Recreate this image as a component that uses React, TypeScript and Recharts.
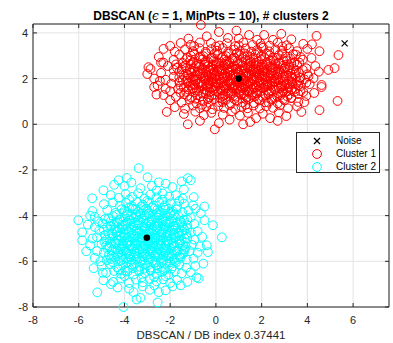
import React from "react";
import {
  CartesianGrid,
  ReferenceArea,
  Scatter,
  ScatterChart,
  XAxis,
  YAxis,
} from "recharts";

const xTicks = [-8, -6, -4, -2, 0, 2, 4, 6];
const yTicks = [-8, -6, -4, -2, 0, 2, 4];

const cluster1: [number, number][] = [
  [-2.7, 2.0], [-2.2, 1.95], [-1.85, 2.08], [-1.45, 1.92], [-1.1, 2.04], [-0.82, 1.97], [-0.55, 2.1], [-0.31, 1.93], [-0.08, 2.02], [0.17, 1.96], [0.41, 2.07], [0.63, 1.91], [0.86, 2.05], [1.14, 1.94], [1.33, 2.09], [1.56, 1.98], [1.79, 2.03], [2.04, 1.92], [2.28, 2.06], [2.57, 1.99], [2.88, 2.04], [3.17, 1.93], [3.49, 2.07], [3.86, 1.97], [4.27, 2.02],
  [-2.4, 2.25], [-1.6, 2.3], [-1.25, 2.18], [-0.95, 2.32], [-0.68, 2.21], [-0.42, 2.28], [-0.2, 2.17], [0.05, 2.33], [0.28, 2.22], [0.52, 2.3], [0.74, 2.19], [0.98, 2.27], [1.21, 2.34], [1.44, 2.2], [1.67, 2.29], [1.9, 2.16], [2.16, 2.31], [2.41, 2.24], [2.69, 2.18], [2.97, 2.33], [3.28, 2.21], [3.62, 2.27], [4.0, 2.19], [4.5, 2.3],
  [-2.55, 1.7], [-1.95, 1.78], [-1.55, 1.68], [-1.2, 1.82], [-0.92, 1.72], [-0.64, 1.8], [-0.38, 1.67], [-0.14, 1.84], [0.1, 1.74], [0.34, 1.69], [0.57, 1.83], [0.79, 1.71], [1.03, 1.79], [1.26, 1.66], [1.49, 1.81], [1.72, 1.73], [1.96, 1.85], [2.2, 1.69], [2.46, 1.77], [2.74, 1.83], [3.03, 1.7], [3.34, 1.8], [3.7, 1.67], [4.1, 1.76], [4.62, 1.72],
  [-2.86, 2.42], [-2.1, 2.55], [-1.7, 2.47], [-1.32, 2.58], [-1.0, 2.44], [-0.73, 2.52], [-0.47, 2.6], [-0.23, 2.46], [0.02, 2.55], [0.24, 2.41], [0.47, 2.58], [0.7, 2.49], [0.93, 2.43], [1.17, 2.57], [1.39, 2.5], [1.62, 2.42], [1.86, 2.59], [2.1, 2.47], [2.35, 2.53], [2.62, 2.44], [2.92, 2.56], [3.22, 2.48], [3.55, 2.6], [3.95, 2.45], [4.35, 2.55], [4.92, 2.38], [5.19, 2.46],
  [-2.7, 1.63], [-2.0, 1.45], [-1.65, 1.55], [-1.3, 1.42], [-1.02, 1.58], [-0.75, 1.47], [-0.5, 1.53], [-0.26, 1.41], [-0.02, 1.59], [0.22, 1.48], [0.45, 1.56], [0.68, 1.43], [0.9, 1.52], [1.13, 1.6], [1.36, 1.44], [1.58, 1.54], [1.82, 1.46], [2.07, 1.58], [2.32, 1.42], [2.58, 1.51], [2.86, 1.59], [3.15, 1.45], [3.47, 1.55], [3.82, 1.41], [4.3, 1.37], [4.62, 1.63],
  [-2.3, 2.7], [-1.85, 2.82], [-1.45, 2.68], [-1.12, 2.79], [-0.85, 2.66], [-0.58, 2.84], [-0.33, 2.72], [-0.1, 2.8], [0.14, 2.67], [0.37, 2.83], [0.6, 2.71], [0.83, 2.78], [1.06, 2.65], [1.3, 2.82], [1.52, 2.73], [1.76, 2.68], [2.0, 2.85], [2.25, 2.7], [2.52, 2.8], [2.8, 2.66], [3.1, 2.77], [3.42, 2.69], [3.8, 2.83], [4.18, 2.9],
  [-2.29, 1.28], [-1.75, 1.2], [-1.38, 1.32], [-1.08, 1.17], [-0.8, 1.27], [-0.55, 1.34], [-0.3, 1.19], [-0.06, 1.3], [0.18, 1.16], [0.4, 1.28], [0.64, 1.35], [0.87, 1.21], [1.1, 1.31], [1.34, 1.18], [1.57, 1.27], [1.8, 1.34], [2.04, 1.2], [2.3, 1.3], [2.55, 1.16], [2.83, 1.28], [3.12, 1.22], [3.3, 1.15], [3.6, 1.32], [3.95, 1.24],
  [-2.5, 2.95], [-1.6, 3.05], [-1.25, 2.93], [-0.95, 3.08], [-0.68, 2.97], [-0.42, 3.1], [-0.17, 2.92], [0.08, 3.04], [0.31, 2.96], [0.55, 3.09], [0.78, 2.91], [1.02, 3.02], [1.25, 3.1], [1.48, 2.94], [1.72, 3.06], [1.97, 2.98], [2.22, 3.08], [2.48, 2.92], [2.75, 3.03], [3.05, 2.97], [3.38, 3.07], [3.7, 2.95], [4.53, 3.2], [5.36, 3.03],
  [-2.0, 1.05], [-1.5, 0.95], [-1.15, 1.08], [-0.85, 0.92], [-0.57, 1.02], [-0.32, 0.94], [-0.08, 1.09], [0.16, 0.97], [0.42, 1.06], [0.66, 0.91], [0.92, 1.03], [1.17, 0.95], [1.42, 1.1], [1.66, 0.93], [1.9, 1.04], [2.15, 0.96], [2.42, 1.08], [2.7, 0.92], [3.0, 1.05], [3.3, 1.15], [3.6, 0.98], [3.87, 0.97], [5.32, 1.02],
  [-2.29, 3.3], [-1.8, 3.18], [-1.35, 3.28], [-1.0, 3.2], [-0.72, 3.33], [-0.45, 3.17], [-0.2, 3.29], [0.05, 3.22], [0.3, 3.34], [0.54, 3.16], [0.8, 3.27], [1.05, 3.2], [1.3, 3.32], [1.55, 3.18], [1.8, 3.25], [2.06, 3.35], [2.33, 3.19], [2.6, 3.28], [2.9, 3.22], [3.2, 3.33], [3.55, 3.2], [4.0, 3.3],
  [-1.8, 0.75], [-1.35, 0.68], [-1.0, 0.82], [-0.7, 0.7], [-0.42, 0.78], [-0.15, 0.66], [0.1, 0.8], [0.35, 0.72], [0.6, 0.84], [0.85, 0.67], [1.12, 0.77], [1.38, 0.7], [1.65, 0.82], [1.92, 0.69], [2.2, 0.79], [2.5, 0.72], [2.8, 0.83], [3.15, 0.7], [3.55, 0.78], [4.53, 0.62],
  [-2.0, 3.43], [-1.54, 3.56], [-1.1, 3.48], [-0.7, 3.58], [-0.22, 3.56], [0.15, 3.45], [0.48, 3.55], [0.85, 3.42], [1.2, 3.58], [1.6, 3.47], [1.95, 3.54], [2.35, 3.44], [2.7, 3.57], [3.1, 3.46], [3.82, 3.52], [4.2, 3.5],
  [-2.15, 0.54], [-1.4, 0.45], [-0.9, 0.55], [-0.53, 0.4], [-0.2, 0.5], [0.3, 0.42], [0.7, 0.56], [1.05, 0.38], [1.4, 0.5], [1.76, 0.27], [2.05, 0.46], [2.37, 0.27], [2.75, 0.52], [3.08, 0.36], [3.74, 0.54],
  [-0.66, 4.35], [0.13, 4.04], [0.53, 3.78], [1.45, 3.91], [2.11, 3.91], [2.5, 3.7], [2.86, 3.96], [4.4, 3.87], [-1.2, 3.75], [-0.4, 3.85], [1.0, 3.75], [1.8, 3.7], [3.3, 3.72], [0.9, 4.1],
  [-1.23, 0.0], [-0.05, -0.22], [0.13, 0.05], [1.19, 0.0], [0.6, 0.2], [-0.7, 0.15], [1.5, 0.1], [2.7, 0.15],
  [-2.95, 2.5], [-3.0, 2.2], [-2.4, 2.7], [-2.6, 1.3], [-2.45, 1.9], [-2.2, 1.55],
  [-0.9, 1.88], [-0.6, 2.38], [-0.35, 1.62], [-0.05, 2.12], [0.25, 1.86], [0.5, 2.44], [0.75, 1.57], [1.0, 2.16], [1.25, 1.9], [1.5, 2.38], [1.75, 1.62], [2.0, 2.14], [2.25, 1.87], [2.5, 2.36], [2.75, 1.58], [3.0, 2.12],
  [-0.75, 2.62], [-0.45, 1.35], [-0.15, 2.6], [0.12, 1.38], [0.4, 2.65], [0.68, 1.33], [0.95, 2.64], [1.22, 1.36], [1.48, 2.66], [1.75, 1.37], [2.02, 2.63], [2.3, 1.34], [2.6, 2.65], [2.9, 1.38],
  [-1.2, 2.15], [-1.0, 1.75], [3.3, 1.88], [3.5, 2.35], [3.3, 2.65], [-1.3, 2.45], [0.0, 1.8], [0.9, 1.85], [1.9, 2.4], [1.6, 1.75], [0.3, 2.35], [2.4, 2.0], [-0.5, 2.0], [3.6, 1.7],
  [-1.25, 1.24], [-0.92, 1.4], [-0.67, 1.22], [-0.4, 1.45], [-0.18, 1.26], [0.05, 1.44], [0.3, 1.23], [0.53, 1.47], [0.77, 1.25], [1.0, 1.42], [1.24, 1.27], [1.46, 1.45], [1.7, 1.22], [1.93, 1.43], [2.17, 1.26], [2.42, 1.46], [2.68, 1.23], [2.95, 1.44], [3.2, 1.3], [3.45, 1.42],
  [-1.4, 1.62], [-1.12, 1.7], [-0.86, 1.57], [-0.6, 1.66], [-0.42, 1.75], [-0.2, 1.58], [0.02, 1.67], [0.26, 1.61], [0.48, 1.72], [0.7, 1.64], [0.95, 1.7], [1.18, 1.58], [1.4, 1.68], [1.65, 1.6], [1.88, 1.69], [2.12, 1.61], [2.36, 1.72], [2.62, 1.64], [2.9, 1.7], [3.18, 1.62], [3.5, 1.75],
  [-1.3, 1.9], [-1.0, 1.98], [-0.7, 1.86], [-0.45, 1.95], [-0.22, 1.87], [0.02, 1.97], [0.28, 2.0], [0.52, 1.87], [0.73, 1.99], [0.98, 1.9], [1.2, 2.0], [1.42, 1.88], [1.68, 1.95], [1.9, 1.88], [2.15, 1.98], [2.45, 1.9], [2.72, 1.96], [3.0, 1.87], [3.32, 1.99], [3.65, 1.92],
  [-1.4, 2.12], [-1.08, 2.26], [-0.82, 2.14], [-0.55, 2.24], [-0.3, 2.1], [-0.08, 2.26], [0.15, 2.13], [0.4, 2.25], [0.62, 2.12], [0.86, 2.22], [1.1, 2.11], [1.32, 2.24], [1.56, 2.13], [1.78, 2.25], [2.03, 2.1], [2.28, 2.22], [2.55, 2.12], [2.82, 2.26], [3.12, 2.14], [3.45, 2.18],
  [-1.45, 2.5], [-1.15, 2.38], [-0.88, 2.55], [-0.6, 2.45], [-0.35, 2.53], [-0.12, 2.38], [0.12, 2.48], [0.36, 2.55], [0.58, 2.4], [0.82, 2.53], [1.05, 2.4], [1.28, 2.47], [1.52, 2.55], [1.74, 2.45], [1.98, 2.52], [2.22, 2.4], [2.48, 2.5], [2.75, 2.4], [3.05, 2.52], [3.38, 2.42],
  [-1.3, 2.85], [-1.0, 2.72], [-0.72, 2.9], [-0.45, 2.76], [-0.22, 2.88], [0.02, 2.72], [0.25, 2.9], [0.48, 2.76], [0.72, 2.88], [0.95, 2.74], [1.18, 2.92], [1.4, 2.78], [1.64, 2.9], [1.88, 2.75], [2.12, 2.93], [2.38, 2.78], [2.65, 2.9], [2.95, 2.8], [3.25, 2.88],
  [-0.9, 1.12], [-0.35, 1.1], [0.28, 1.12], [0.8, 1.1], [1.3, 1.12], [1.85, 1.1], [2.45, 1.12], [2.95, 1.1],
  [-1.55, 1.38], [-1.2, 1.52], [-0.1, 1.5], [0.55, 1.36], [1.08, 1.48], [1.62, 1.39], [2.22, 1.5], [2.72, 1.36], [3.3, 1.52], [3.7, 1.45],
  [-1.6, 1.85], [-0.78, 1.78], [-0.28, 1.76], [0.2, 1.79], [0.65, 1.77], [1.15, 1.76], [1.58, 1.88], [2.08, 1.76], [2.58, 1.86], [3.1, 1.78], [3.55, 1.85], [3.95, 1.82],
  [-1.6, 2.05], [-1.25, 2.0], [-0.95, 2.1], [-0.2, 2.05], [0.5, 2.1], [1.05, 2.05], [1.68, 2.1], [2.15, 2.08], [2.68, 2.08], [3.3, 2.08], [3.7, 2.05], [4.05, 2.1],
  [-1.85, 2.38], [-1.5, 2.4], [-0.75, 2.32], [-0.32, 2.4], [0.18, 2.42], [0.65, 2.36], [1.12, 2.37], [1.62, 2.34], [2.08, 2.36], [2.6, 2.3], [3.15, 2.4], [3.8, 2.38],
  [-1.75, 2.62], [-1.1, 2.62], [-0.5, 2.7], [0.0, 2.62], [0.55, 2.63], [1.12, 2.72], [1.65, 2.62], [2.2, 2.62], [2.75, 2.7], [3.2, 2.58], [3.65, 2.7],
  [-1.1, 3.0], [-0.55, 2.98], [-0.05, 3.1], [0.45, 2.98], [0.92, 3.12], [1.38, 3.02], [1.85, 3.12], [2.35, 3.02], [2.9, 3.1], [3.5, 3.05],
  [-0.6, 0.85], [0.3, 0.98], [1.3, 0.86], [2.3, 0.95], [-0.95, 3.42], [0.0, 3.4], [1.0, 3.45], [2.0, 3.42], [2.9, 3.4],
  [-0.62, 1.72], [-0.38, 2.18], [-0.15, 1.95], [0.08, 2.4], [0.2, 1.55], [0.35, 2.05], [0.45, 1.65], [0.6, 2.28], [0.72, 1.8], [0.88, 2.42], [1.08, 1.65], [1.2, 2.2], [1.35, 1.78], [1.5, 2.5], [1.62, 2.02],
  [1.8, 2.3], [1.95, 1.6], [2.1, 2.2], [2.25, 1.75], [2.4, 2.48], [2.55, 1.85], [2.7, 2.25], [2.85, 1.65], [-0.25, 2.35], [-0.8, 2.3], [3.0, 2.45], [3.2, 1.75], [-1.0, 1.55], [0.95, 1.6], [1.75, 2.55],
];

const cluster2: [number, number][] = [
  [-5.85, -5.08], [-5.2, -4.95], [-4.8, -5.05], [-4.5, -4.92], [-4.25, -5.07], [-4.0, -4.96], [-3.78, -5.1], [-3.55, -4.93], [-3.32, -5.04], [-3.1, -4.91], [-2.88, -5.06], [-2.66, -4.97], [-2.43, -5.09], [-2.2, -4.94], [-1.97, -5.03], [-1.73, -4.9], [-1.5, -5.07], [-1.25, -4.98], [-0.95, -5.05], [-0.6, -4.93], [0.26, -4.95],
  [-5.85, -4.73], [-5.1, -4.65], [-4.7, -4.78], [-4.42, -4.62], [-4.16, -4.74], [-3.93, -4.6], [-3.7, -4.77], [-3.47, -4.66], [-3.24, -4.8], [-3.02, -4.63], [-2.8, -4.75], [-2.57, -4.61], [-2.35, -4.72], [-2.12, -4.79], [-1.88, -4.64], [-1.63, -4.76], [-1.38, -4.62], [-1.1, -4.74], [-0.8, -4.68],
  [-5.5, -5.3], [-5.0, -5.25], [-4.65, -5.38], [-4.37, -5.22], [-4.12, -5.35], [-3.88, -5.24], [-3.65, -5.4], [-3.42, -5.27], [-3.2, -5.36], [-2.97, -5.21], [-2.75, -5.33], [-2.52, -5.26], [-2.3, -5.39], [-2.07, -5.23], [-1.83, -5.34], [-1.58, -5.22], [-1.32, -5.37], [-1.05, -5.28], [-0.7, -5.35],
  [-5.6, -4.4], [-4.95, -4.35], [-4.6, -4.47], [-4.33, -4.32], [-4.08, -4.45], [-3.85, -4.3], [-3.62, -4.43], [-3.38, -4.36], [-3.15, -4.49], [-2.93, -4.31], [-2.7, -4.44], [-2.47, -4.34], [-2.25, -4.48], [-2.02, -4.33], [-1.78, -4.46], [-1.52, -4.3], [-1.25, -4.42], [-0.95, -4.36], [-0.13, -4.42],
  [-5.67, -5.56], [-4.9, -5.62], [-4.55, -5.52], [-4.28, -5.66], [-4.03, -5.55], [-3.8, -5.69], [-3.57, -5.58], [-3.34, -5.5], [-3.1, -5.64], [-2.87, -5.53], [-2.64, -5.68], [-2.41, -5.57], [-2.18, -5.51], [-1.94, -5.65], [-1.7, -5.54], [-1.44, -5.67], [-1.15, -5.55], [-0.35, -5.6], [-0.8, -5.62],
  [-6.02, -4.2], [-5.3, -4.05], [-4.85, -4.15], [-4.5, -4.02], [-4.22, -4.17], [-3.97, -4.06], [-3.73, -4.19], [-3.5, -4.04], [-3.27, -4.14], [-3.04, -4.0], [-2.82, -4.16], [-2.58, -4.07], [-2.36, -4.2], [-2.13, -4.03], [-1.9, -4.13], [-1.65, -4.01], [-1.4, -4.18], [-1.1, -4.08], [-0.66, -3.9],
  [-5.3, -5.85], [-4.78, -5.95], [-4.45, -5.82], [-4.18, -5.98], [-3.93, -5.86], [-3.7, -5.93], [-3.46, -5.81], [-3.23, -5.97], [-3.0, -5.84], [-2.77, -5.96], [-2.53, -5.83], [-2.3, -5.94], [-2.06, -5.87], [-1.8, -5.99], [-1.55, -5.85], [-1.28, -5.92], [-0.98, -5.88],
  [-5.4, -3.8], [-4.75, -3.75], [-4.4, -3.88], [-4.12, -3.72], [-3.87, -3.85], [-3.63, -3.7], [-3.4, -3.83], [-3.17, -3.76], [-2.93, -3.89], [-2.7, -3.71], [-2.46, -3.84], [-2.22, -3.74], [-1.98, -3.87], [-1.73, -3.73], [-1.47, -3.86], [-1.2, -3.78], [-0.9, -3.7],
  [-5.0, -6.2], [-4.62, -6.12], [-4.32, -6.26], [-4.06, -6.15], [-3.81, -6.28], [-3.57, -6.13], [-3.33, -6.24], [-3.1, -6.11], [-2.86, -6.27], [-2.62, -6.16], [-2.38, -6.25], [-2.14, -6.1], [-1.88, -6.22], [-1.6, -6.14], [-1.3, -6.28], [-0.9, -6.2],
  [-5.41, -3.24], [-4.9, -3.5], [-4.5, -3.42], [-4.2, -3.56], [-3.93, -3.45], [-3.68, -3.58], [-3.44, -3.41], [-3.2, -3.53], [-2.96, -3.44], [-2.72, -3.57], [-2.48, -3.43], [-2.24, -3.55], [-1.98, -3.46], [-1.7, -3.59], [-1.4, -3.47], [-1.0, -3.55],
  [-4.8, -6.5], [-4.45, -6.42], [-4.15, -6.55], [-3.87, -6.45], [-3.6, -6.58], [-3.35, -6.43], [-3.1, -6.52], [-2.85, -6.41], [-2.6, -6.56], [-2.35, -6.46], [-2.08, -6.59], [-1.8, -6.44], [-1.5, -6.53], [-1.1, -6.48],
  [-4.92, -2.89], [-4.6, -3.1], [-4.25, -3.22], [-3.95, -3.05], [-3.66, -3.18], [-3.4, -3.02], [-3.13, -3.25], [-2.87, -3.08], [-2.6, -3.2], [-2.33, -3.03], [-2.05, -3.17], [-1.75, -3.1], [-1.45, -3.25], [-0.97, -3.19],
  [-4.92, -6.83], [-4.5, -6.9], [-4.15, -6.75], [-3.8, -6.95], [-3.5, -6.8], [-3.2, -6.92], [-2.9, -6.77], [-2.6, -6.88], [-2.3, -6.79], [-2.0, -6.95], [-1.7, -6.82], [-0.75, -6.75], [-1.25, -6.9],
  [-5.19, -7.36], [-4.04, -8.0], [-3.47, -7.67], [-2.55, -7.8], [-2.2, -7.27], [-1.54, -7.05], [-3.3, -7.6], [-3.8, -7.2], [-2.9, -7.25], [-3.2, -7.1], [-4.3, -7.15], [-2.5, -7.35],
  [-3.38, -1.92], [-2.99, -2.32], [-2.5, -2.54], [-1.23, -2.36], [-4.26, -2.45], [-4.0, -2.7], [-3.7, -2.55], [-3.3, -2.8], [-2.8, -2.7], [-2.2, -2.6], [-1.9, -2.75], [-1.5, -2.5], [-3.9, -2.35], [-4.45, -2.65], [-1.4, -2.85], [-2.6, -2.9], [-1.1, -2.45],
  [-4.2, -4.88], [-3.9, -5.15], [-3.6, -4.84], [-3.3, -5.18], [-3.0, -4.82], [-2.7, -5.17], [-2.4, -4.85], [-2.1, -5.14], [-1.85, -4.86],
  [-4.1, -4.55], [-3.8, -4.2], [-3.45, -4.57], [-3.15, -4.22], [-2.85, -4.56], [-2.55, -4.23], [-2.25, -4.58], [-1.95, -4.24],
  [-4.05, -5.45], [-3.75, -5.8], [-3.45, -5.44], [-3.15, -5.78], [-2.85, -5.43], [-2.55, -5.79], [-2.25, -5.46], [-1.95, -5.78],
  [-3.9, -3.95], [-3.3, -3.92], [-2.6, -3.95], [-2.0, -3.93], [-3.9, -6.05], [-3.3, -6.02], [-2.65, -6.06], [-2.0, -6.04],
  [-4.4, -5.15], [-4.35, -4.7], [-1.6, -5.15], [-1.65, -4.75], [-4.6, -4.25], [-1.45, -4.5], [-4.55, -5.75], [-1.4, -5.6],
  [-3.8, -3.65], [-3.52, -3.72], [-3.28, -3.62], [-3.05, -3.7], [-2.8, -3.63], [-2.55, -3.72], [-2.3, -3.64], [-2.08, -3.7],
  [-4.35, -3.97], [-4.05, -4.25], [-3.7, -3.98], [-3.4, -4.22], [-3.12, -3.96], [-2.82, -4.25], [-2.5, -3.98], [-2.2, -4.26], [-1.85, -3.97], [-1.55, -4.24],
  [-4.75, -4.5], [-4.48, -4.4], [-4.22, -4.55], [-3.95, -4.42], [-3.68, -4.52], [-3.4, -4.42], [-3.12, -4.55], [-2.85, -4.4], [-2.58, -4.5], [-2.32, -4.4], [-2.05, -4.52], [-1.78, -4.58], [-1.5, -4.42], [-1.25, -4.55],
  [-4.85, -4.85], [-4.55, -4.78], [-4.3, -4.88], [-4.02, -4.78], [-3.75, -4.9], [-3.45, -4.77], [-3.18, -4.88], [-2.92, -4.76], [-2.65, -4.87], [-2.38, -4.78], [-2.12, -4.89], [-1.85, -4.76], [-1.58, -4.88], [-1.3, -4.8],
  [-4.88, -5.15], [-4.6, -5.22], [-4.32, -5.08], [-4.06, -5.22], [-3.78, -5.12], [-3.5, -5.22], [-3.22, -5.08], [-2.96, -5.15], [-2.68, -5.08], [-2.4, -5.22], [-2.15, -5.1], [-1.88, -5.2], [-1.6, -5.08], [-1.32, -5.18],
  [-4.75, -5.45], [-4.45, -5.6], [-4.18, -5.47], [-3.9, -5.58], [-3.62, -5.48], [-3.35, -5.6], [-3.05, -5.45], [-2.78, -5.6], [-2.5, -5.48], [-2.22, -5.6], [-1.96, -5.45], [-1.68, -5.58], [-1.4, -5.48],
  [-4.6, -5.9], [-4.32, -5.78], [-4.05, -5.92], [-3.78, -5.78], [-3.5, -5.9], [-3.22, -5.8], [-2.95, -5.92], [-2.68, -5.78], [-2.4, -5.88], [-2.12, -5.78], [-1.85, -5.9], [-1.6, -5.78],
  [-4.25, -6.35], [-3.95, -6.4], [-3.65, -6.3], [-3.4, -6.38], [-3.12, -6.32], [-2.85, -6.38], [-2.55, -6.3], [-2.25, -6.38], [-1.95, -6.32],
  [-4.0, -3.78], [-3.5, -3.95], [-3.0, -3.78], [-2.45, -3.95], [-1.9, -3.8],
  [-4.7, -4.12], [-4.3, -4.25], [-3.6, -4.12], [-2.95, -4.28], [-2.35, -4.12], [-1.7, -4.3], [-1.25, -4.18],
  [-4.9, -4.62], [-4.3, -4.68], [-3.82, -4.68], [-3.35, -4.7], [-2.95, -4.7], [-2.45, -4.68], [-1.98, -4.66], [-1.5, -4.68],
  [-4.65, -5.0], [-4.12, -4.98], [-3.65, -5.0], [-3.22, -4.98], [-2.78, -5.0], [-2.3, -5.0], [-1.8, -4.98], [-1.38, -5.0],
  [-4.8, -5.32], [-4.22, -5.3], [-3.75, -5.32], [-3.3, -5.32], [-2.85, -5.28], [-2.4, -5.32], [-1.95, -5.3], [-1.45, -5.3],
  [-4.68, -5.72], [-4.12, -5.72], [-3.6, -5.72], [-3.05, -5.72], [-2.55, -5.7], [-2.05, -5.7], [-1.55, -5.7],
  [-4.5, -6.05], [-3.7, -6.15], [-3.0, -6.18], [-2.4, -6.05], [-1.75, -6.05],
  [-4.0, -6.65], [-3.25, -6.7], [-2.7, -6.68], [-2.2, -6.65],
  [-3.8, -3.3], [-3.0, -3.35], [-2.35, -3.3], [-1.6, -3.35],
  [-5.3, -4.5], [-5.4, -5.0], [-5.2, -5.55], [-5.05, -6.0], [-5.5, -4.0], [-5.15, -4.25], [-4.95, -6.5], [-5.35, -6.3],
  [-4.6, -7.0], [-3.6, -7.35], [-2.7, -7.05], [-1.9, -7.1],
  [-0.5, -4.2], [-0.4, -5.3], [-0.55, -6.1], [-0.5, -3.6], [-0.85, -6.7],
  [-3.95, -4.35], [-3.7, -4.62], [-3.55, -4.3], [-3.25, -4.65], [-3.05, -4.35], [-2.75, -4.65], [-2.6, -4.35], [-2.3, -4.62], [-2.15, -4.32], [-4.05, -5.3], [-3.85, -4.95], [-3.55, -5.3], [-3.4, -4.95], [-3.1, -5.3],
  [-2.95, -5.0], [-2.6, -5.35], [-2.5, -4.95], [-2.2, -5.3], [-3.9, -5.65], [-3.5, -5.65], [-3.2, -5.55], [-2.9, -5.7], [-2.6, -5.6], [-2.3, -5.75], [-4.3, -5.55], [-1.8, -5.55], [-4.45, -4.35], [-1.85, -4.45],
];

const noise: [number, number][] = [[5.63, 3.54]];
const centroids: [number, number][] = [[1.0, 2.0], [-3.02, -4.97]];

const toXY = (pts: [number, number][]) => pts.map(([x, y]) => ({ x, y }));

const PLOT_TOP = 24;
const PLOT_BOTTOM = 307;
const PLOT_LEFT = 33;
const PLOT_RIGHT = 389;
const AXIS_COLOR = "#262626";
const FONT = "'Liberation Sans', Arial, Helvetica, sans-serif";

const XTick = (props: any) => {
  const { x, payload } = props;
  return (
    <g>
      <line x1={x} x2={x} y1={PLOT_BOTTOM} y2={PLOT_BOTTOM - 4} stroke={AXIS_COLOR} />
      <line x1={x} x2={x} y1={PLOT_TOP} y2={PLOT_TOP + 4} stroke={AXIS_COLOR} />
      <text x={x} y={PLOT_BOTTOM + 17} textAnchor="middle" fontSize={11} fill={AXIS_COLOR} fontFamily={FONT}>
        {payload.value}
      </text>
    </g>
  );
};

const YTick = (props: any) => {
  const { y, payload } = props;
  return (
    <g>
      <line x1={PLOT_LEFT} x2={PLOT_LEFT + 4} y1={y} y2={y} stroke={AXIS_COLOR} />
      <line x1={PLOT_RIGHT} x2={PLOT_RIGHT - 4} y1={y} y2={y} stroke={AXIS_COLOR} />
      <text x={PLOT_LEFT - 5} y={y + 4} textAnchor="end" fontSize={11} fill={AXIS_COLOR} fontFamily={FONT}>
        {payload.value}
      </text>
    </g>
  );
};

const ring = (color: string) => (props: any) =>
  <circle cx={props.cx} cy={props.cy} r={4.4} fill="none" stroke={color} strokeWidth={1} />;

const Cross = (props: any) => {
  const { cx, cy } = props;
  return (
    <g stroke="#000" strokeWidth={1.2}>
      <line x1={cx - 3} y1={cy - 3} x2={cx + 3} y2={cy + 3} />
      <line x1={cx - 3} y1={cy + 3} x2={cx + 3} y2={cy - 3} />
    </g>
  );
};

const Dot = (props: any) => <circle cx={props.cx} cy={props.cy} r={3.3} fill="#000" />;

const legendItems = [
  { label: "Noise", kind: "x" },
  { label: "Cluster 1", kind: "#ff0000" },
  { label: "Cluster 2", kind: "#00ffff" },
];

const LegendBox = () => (
  <div
    style={{
      position: "absolute",
      left: 296,
      top: 132,
      width: 84,
      height: 41,
      boxSizing: "border-box",
      border: `1px solid ${AXIS_COLOR}`,
      background: "#fff",
      fontFamily: FONT,
      fontSize: 10,
      color: "#000",
    }}
  >
    {legendItems.map((item, i) => (
      <div key={item.label} style={{ position: "absolute", top: 1 + i * 13, left: 0, height: 13, display: "flex", alignItems: "center" }}>
        <svg width={40} height={13} style={{ display: "block" }}>
          {item.kind === "x" ? (
            <g stroke="#000" strokeWidth={1.2}>
              <line x1={17} y1={4} x2={23} y2={10} />
              <line x1={17} y1={10} x2={23} y2={4} />
            </g>
          ) : (
            <circle cx={20} cy={7} r={4.4} fill="none" stroke={item.kind} />
          )}
        </svg>
        <span style={{ marginLeft: -1, whiteSpace: "nowrap" }}>{item.label}</span>
      </div>
    ))}
  </div>
);

const App = () => {
  return (
    <div style={{ position: "absolute", left: 0, top: 0, width: 393, height: 343, background: "#fff" }}>
      <ScatterChart width={393} height={343} margin={{ top: PLOT_TOP, right: 393 - PLOT_RIGHT, bottom: 0, left: 0 }}>
        <CartesianGrid stroke="#e3e3e3" strokeWidth={1} />
        <XAxis
          type="number"
          dataKey="x"
          domain={[-8, 7.57]}
          ticks={xTicks}
          interval={0}
          height={343 - PLOT_BOTTOM}
          axisLine={false}
          tickLine={false}
          tick={<XTick />}
          label={{ value: "DBSCAN / DB index 0.37441", position: "insideBottom", offset: 4, fontSize: 11.5, fill: AXIS_COLOR, fontFamily: FONT }}
        />
        <YAxis
          type="number"
          dataKey="y"
          domain={[-8, 4.39]}
          ticks={yTicks}
          interval={0}
          width={PLOT_LEFT}
          axisLine={false}
          tickLine={false}
          tick={<YTick />}
        />
        <ReferenceArea x1={-8} x2={7.57} y1={-8} y2={4.39} fill="none" stroke={AXIS_COLOR} strokeWidth={1} ifOverflow="visible" />
        <Scatter name="Cluster 1" data={toXY(cluster1)} shape={ring("#ff0000")} isAnimationActive={false} />
        <Scatter name="Cluster 2" data={toXY(cluster2)} shape={ring("#00ffff")} isAnimationActive={false} />
        <Scatter name="Noise" data={toXY(noise)} shape={<Cross />} isAnimationActive={false} />
        <Scatter name="Centroids" data={toXY(centroids)} shape={<Dot />} isAnimationActive={false} />
      </ScatterChart>
      <div
        style={{
          position: "absolute",
          left: 0,
          width: 422,
          top: 9,
          textAlign: "center",
          fontFamily: FONT,
          fontWeight: "bold",
          fontSize: 12,
          color: "#000",
          whiteSpace: "nowrap",
        }}
      >
        DBSCAN (<i style={{ fontFamily: "'DejaVu Serif', serif", fontWeight: "normal" }}>ϵ</i> = 1, MinPts = 10), # clusters 2
      </div>
      <LegendBox />
    </div>
  );
};

export default App;
